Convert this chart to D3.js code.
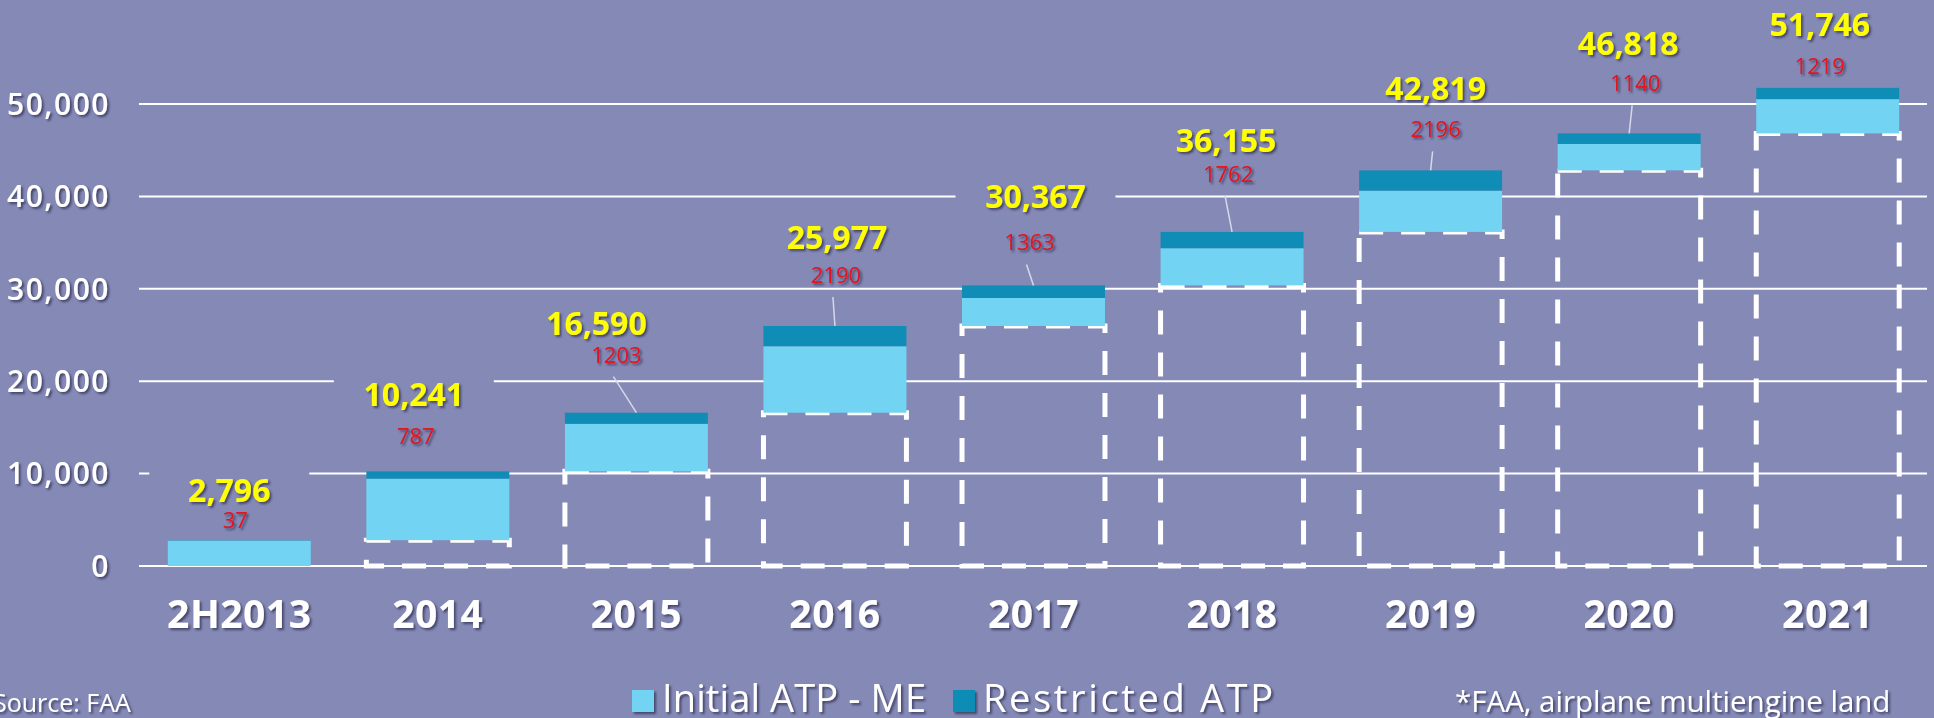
<!DOCTYPE html>
<html>
<head>
<meta charset="utf-8">
<script src="https://cdn.jsdelivr.net/npm/d3@7"></script>
<style>
  body { margin: 0; background: #8589b6; }
  svg { display: block; }
  text { font-family: "Open Sans", sans-serif; }
</style>
</head>
<body>
<div id="chart"></div>
<script>
// data
const years = ["2H2013", "2014", "2015", "2016", "2017", "2018", "2019", "2020", "2021"];
const totals = [2796, 10241, 16590, 25977, 30367, 36155, 42819, 46818, 51746];
const restricted = [37, 787, 1203, 2190, 1363, 1762, 2196, 1140, 1219];
const yTicks = [0, 10000, 20000, 30000, 40000, 50000];

// label placement (px, relative to bar top / bar centre), as laid out on the slide
const totalLabelOffset = [[-10, -38], [-24, -65], [-40, -78], [2, -77], [2, -77], [-6, -80], [5, -70], [-1, -78], [-8, -52]];
const restrictedLabelOffset = [[-4, -12], [-22, -27], [-20, -50], [1, -43], [-4, -35], [-4, -50], [5, -33], [6, -42], [-8, -14]];
const hasLeader = [false, false, true, true, true, true, true, true, false];

const width = 1934, height = 718;
const bg = "#8589b6";

const svg = d3.select("#chart")
  .append("svg")
  .attr("width", width)
  .attr("height", height);

svg.append("rect").attr("width", width).attr("height", height).attr("fill", bg);

// text shadow
const defs = svg.append("defs");
defs.append("filter")
  .attr("id", "shadow")
  .attr("x", "-20%").attr("y", "-20%").attr("width", "140%").attr("height", "160%")
  .append("feDropShadow")
  .attr("dx", 2).attr("dy", 2).attr("stdDeviation", 1)
  .attr("flood-color", "#2a2a48").attr("flood-opacity", 0.7);

// scales
const xScale = d3.scaleBand()
  .domain(years)
  .range([140, 1927])
  .paddingInner(0.28)
  .paddingOuter(0.14);

const yScale = d3.scaleLinear()
  .domain([0, 50000])
  .range([566, 104]);

// gridlines
svg.append("g")
  .selectAll("line")
  .data(yTicks)
  .join("line")
  .attr("x1", 139)
  .attr("x2", 1927)
  .attr("y1", d => yScale(d))
  .attr("y2", d => yScale(d))
  .attr("stroke", "#ffffff")
  .attr("stroke-width", 2);

// y tick labels
svg.append("g")
  .selectAll("text")
  .data(yTicks)
  .join("text")
  .attr("x", 110)
  .attr("y", d => yScale(d))
  .attr("dy", "0.36em")
  .attr("text-anchor", "end")
  .attr("fill", "#ffffff")
  .attr("font-size", "30px")
  .attr("font-weight", 600)
  .attr("letter-spacing", "1.5px")
  .attr("filter", "url(#shadow)")
  .text(d => d3.format(",")(d));

const bars = years.map((y, i) => ({
  year: y,
  prev: i === 0 ? 0 : totals[i - 1],
  total: totals[i],
  restricted: restricted[i],
  i
}));

// dashed boxes for the previous cumulative total
svg.append("g")
  .selectAll("rect")
  .data(bars.filter(d => d.prev > 0))
  .join("rect")
  .attr("x", d => xScale(d.year))
  .attr("y", d => yScale(d.prev))
  .attr("width", xScale.bandwidth())
  .attr("height", d => yScale(0) - yScale(d.prev))
  .attr("fill", "none")
  .attr("stroke", "#ffffff")
  .attr("stroke-width", 5)
  .attr("stroke-dasharray", "24,18");

// initial ATP
svg.append("g")
  .selectAll("rect")
  .data(bars)
  .join("rect")
  .attr("x", d => xScale(d.year))
  .attr("y", d => yScale(d.total - d.restricted))
  .attr("width", xScale.bandwidth())
  .attr("height", d => yScale(d.prev) - yScale(d.total - d.restricted))
  .attr("fill", "#72d4f2");

// restricted ATP
svg.append("g")
  .selectAll("rect")
  .data(bars)
  .join("rect")
  .attr("x", d => xScale(d.year))
  .attr("y", d => yScale(d.total))
  .attr("width", xScale.bandwidth())
  .attr("height", d => yScale(d.total - d.restricted) - yScale(d.total))
  .attr("fill", "#108db6");

const cx = d => xScale(d.year) + xScale.bandwidth() / 2;

// leader lines
svg.append("g")
  .selectAll("line")
  .data(bars.filter(d => hasLeader[d.i]))
  .join("line")
  .attr("x1", d => cx(d) + restrictedLabelOffset[d.i][0] - 3)
  .attr("y1", d => yScale(d.total) + restrictedLabelOffset[d.i][1] + 14)
  .attr("x2", d => cx(d))
  .attr("y2", d => yScale(d.total))
  .attr("stroke", "#d6d8ea")
  .attr("stroke-width", 1.5);

// total labels (boxed, hide gridlines behind them)
const totalG = svg.append("g")
  .selectAll("g")
  .data(bars)
  .join("g")
  .attr("transform", d => `translate(${cx(d) + totalLabelOffset[d.i][0]}, ${yScale(d.total) + totalLabelOffset[d.i][1]})`);

totalG.append("rect")
  .attr("x", -80)
  .attr("y", -32)
  .attr("width", 160)
  .attr("height", 34)
  .attr("fill", bg);

totalG.append("text")
  .attr("text-anchor", "middle")
  .attr("fill", "#ffff00")
  .attr("font-size", "32px")
  .attr("font-weight", 700)
  .attr("filter", "url(#shadow)")
  .text(d => d3.format(",")(d.total));

// restricted labels
svg.append("g")
  .selectAll("text")
  .data(bars)
  .join("text")
  .attr("x", d => cx(d) + restrictedLabelOffset[d.i][0])
  .attr("y", d => yScale(d.total) + restrictedLabelOffset[d.i][1])
  .attr("text-anchor", "middle")
  .attr("fill", "#e3121c")
  .attr("font-size", "22px")
  .attr("font-weight", 500)
  .attr("filter", "url(#shadow)")
  .text(d => d.restricted);

// x labels
svg.append("g")
  .selectAll("text")
  .data(years)
  .join("text")
  .attr("x", d => xScale(d) + xScale.bandwidth() / 2)
  .attr("y", 628)
  .attr("text-anchor", "middle")
  .attr("fill", "#ffffff")
  .attr("font-size", "39px")
  .attr("font-weight", 700)
  .attr("letter-spacing", "0.5px")
  .attr("filter", "url(#shadow)")
  .text(d => d);

// legend
const legendItems = [
  { label: "Initial ATP - ME", color: "#72d4f2", x: 632, len: 264 },
  { label: "Restricted ATP", color: "#108db6", x: 953, len: 290 }
];

const legend = svg.append("g")
  .selectAll("g")
  .data(legendItems)
  .join("g")
  .attr("transform", d => `translate(${d.x}, 690)`);

legend.append("rect")
  .attr("width", 22)
  .attr("height", 22)
  .attr("fill", d => d.color)
  .attr("filter", "url(#shadow)");

legend.append("text")
  .attr("x", 30)
  .attr("y", 22)
  .attr("fill", "#ffffff")
  .attr("font-size", "38px")
  .attr("textLength", d => d.len)
  .attr("lengthAdjust", "spacing")
  .attr("filter", "url(#shadow)")
  .text(d => d.label);

// source and note
svg.append("text")
  .attr("x", -7)
  .attr("y", 712)
  .attr("fill", "#ffffff")
  .attr("font-size", "25px")
  .attr("filter", "url(#shadow)")
  .text("Source: FAA");

svg.append("text")
  .attr("x", 1455)
  .attr("y", 712)
  .attr("fill", "#ffffff")
  .attr("font-size", "29.5px")
  .attr("filter", "url(#shadow)")
  .text("*FAA, airplane multiengine land");
</script>
</body>
</html>
